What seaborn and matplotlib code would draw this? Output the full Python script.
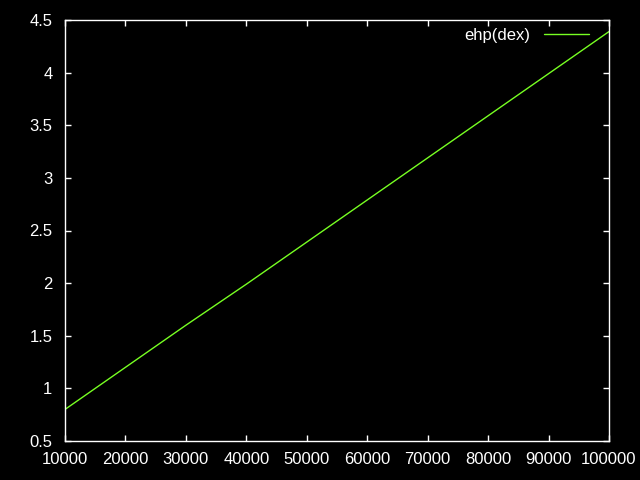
import matplotlib
matplotlib.use("Agg")
import matplotlib.pyplot as plt
import seaborn as sns
import pandas as pd

x_values = [10000, 20000, 30000, 40000, 50000, 60000, 70000, 80000, 90000, 100000]
ehp_dex = [0.80, 1.20, 1.60, 1.99, 2.39, 2.79, 3.19, 3.59, 3.99, 4.39]
series_label = "ehp(dex)"
x_ticks = [10000, 20000, 30000, 40000, 50000, 60000, 70000, 80000, 90000, 100000]
y_ticks = [0.5, 1, 1.5, 2, 2.5, 3, 3.5, 4, 4.5]

sns.set_style("dark")
plt.rcParams["font.family"] = ["Liberation Sans", "DejaVu Sans"]

df = pd.DataFrame({"x": x_values, "y": ehp_dex, "s": series_label})

fig = plt.figure(figsize=(6.4, 4.8), dpi=100, facecolor="black")
ax = fig.add_axes([65 / 640, 39 / 480, 544 / 640, 421 / 480])
ax.set_facecolor("black")

sns.lineplot(data=df, x="x", y="y", hue="s", palette=["#77ff22"], ax=ax, linewidth=1.0)

ax.set_xlim(10000, 100000)
ax.set_ylim(0.5, 4.5)
ax.set_xticks(x_ticks)
ax.set_xticklabels([str(v) for v in x_ticks])
ax.set_yticks(y_ticks)
ax.set_yticklabels([f"{v:g}" for v in y_ticks])
ax.set_xlabel("")
ax.set_ylabel("")
ax.grid(False)
for side in ["left", "right", "top", "bottom"]:
    ax.spines[side].set_visible(True)
    ax.spines[side].set_color("white")
    ax.spines[side].set_linewidth(1.0)
ax.tick_params(axis="both", which="both", direction="in", length=4, width=1,
               color="white", labelcolor="white", labelsize=12,
               top=True, right=True, bottom=True, left=True,
               labeltop=False, labelright=False)
ax.tick_params(axis="y", pad=9)
ax.tick_params(axis="x", pad=8)

handles, labels = ax.get_legend_handles_labels()
leg = ax.legend(handles, labels, loc="upper right", frameon=False, markerfirst=False,
                fontsize=12, handlelength=2.7, handletextpad=0.85,
                bbox_to_anchor=(0.985, 1.008), borderaxespad=0.3)
for t in leg.get_texts():
    t.set_color("white")

fig.savefig("out.png", dpi=100, facecolor="black")
